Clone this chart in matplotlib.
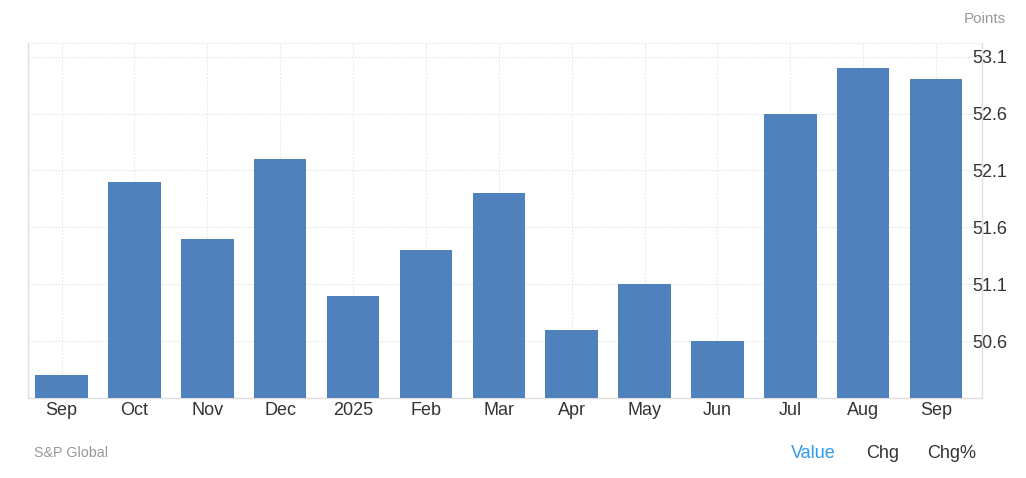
import matplotlib
matplotlib.use("Agg")
import matplotlib.pyplot as plt

plt.rcParams["font.family"] = ["Liberation Sans", "DejaVu Sans"]

categories = ["Sep", "Oct", "Nov", "Dec", "2025", "Feb", "Mar", "Apr", "May", "Jun", "Jul", "Aug", "Sep"]
values = [50.3, 52.0, 51.5, 52.2, 51.0, 51.4, 51.9, 50.7, 51.1, 50.6, 52.6, 53.0, 52.9]
yticks = [50.6, 51.1, 51.6, 52.1, 52.6, 53.1]

W, H = 1026, 478
fig = plt.figure(figsize=(W / 100, H / 100), dpi=100)
ax = fig.add_axes([28 / W, (H - 398) / H, 954 / W, 355 / H])

x = list(range(len(categories)))
ax.bar(x, values, width=0.72, color="#4f81bd", zorder=3)
ax.set_xlim(-0.46, 12.63)
ax.set_ylim(50.1, 53.22)

ax.set_xticks(x)
ax.set_xticklabels(categories, fontsize=13, color="#333333")
ax.yaxis.tick_right()
ax.set_yticks(yticks)
ax.set_yticklabels([f"{v:.1f}" for v in yticks], fontsize=13, color="#333333")
ax.tick_params(axis="both", length=0)
ax.tick_params(axis="x", pad=3)
for lab in ax.get_yticklabels():
    lab.set_horizontalalignment("left")
ax.tick_params(axis="y", pad=-7)

ax.grid(True, color="#e6e6e6", linestyle=(0, (1.5, 1.5)), linewidth=0.8, zorder=0)
ax.axhline(53.22, color="#e6e6e6", linestyle=(0, (1.5, 1.5)), linewidth=0.8, zorder=0)
ax.spines["top"].set_visible(False)
for s in ["left", "right", "bottom"]:
    ax.spines[s].set_color("#e0e0e0")
    ax.spines[s].set_linewidth(1)

fig.text(1006 / W, 1 - 19 / H, "Points", fontsize=11, color="#999999", ha="right", va="center")
fig.text(34 / W, 1 - 453 / H, "S&P Global", fontsize=10.3, color="#999999", ha="left", va="center")
fig.text(813 / W, 1 - 454 / H, "Value", fontsize=13, color="#2e9bf0", ha="center", va="center")
fig.text(883 / W, 1 - 454 / H, "Chg", fontsize=13, color="#333333", ha="center", va="center")
fig.text(952 / W, 1 - 454 / H, "Chg%", fontsize=13, color="#333333", ha="center", va="center")

fig.savefig("out.png", dpi=100)
